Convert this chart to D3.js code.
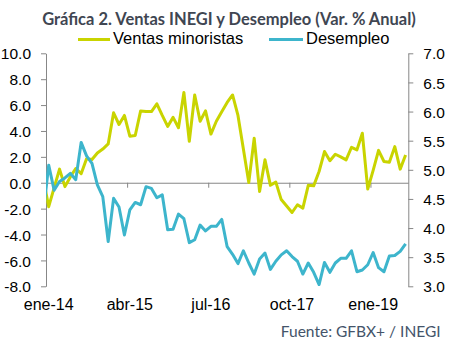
<!DOCTYPE html>
<html>
  <head>
    <meta charset="utf-8">
    <title>Ventas INEGI y Desempleo</title>
    <script src="https://cdn.jsdelivr.net/npm/d3@7"></script>
    <style>
      body { margin: 0; background: #fff; }
      svg { display: block; font-family: "Liberation Sans", Arial, sans-serif; }
      .axis path, .axis line { stroke: #878787; }
      .axis text { fill: #000; font-size: 15.5px; }
    </style>
  </head>
  <body>
    <svg id="chart" width="471" height="352"></svg>

    <script>
      // data (dic-13 sits just off the left edge and gets clipped)
      months = ["dic-13",
        "ene-14","feb-14","mar-14","abr-14","may-14","jun-14","jul-14","ago-14","sep-14","oct-14","nov-14","dic-14",
        "ene-15","feb-15","mar-15","abr-15","may-15","jun-15","jul-15","ago-15","sep-15","oct-15","nov-15","dic-15",
        "ene-16","feb-16","mar-16","abr-16","may-16","jun-16","jul-16","ago-16","sep-16","oct-16","nov-16","dic-16",
        "ene-17","feb-17","mar-17","abr-17","may-17","jun-17","jul-17","ago-17","sep-17","oct-17","nov-17","dic-17",
        "ene-18","feb-18","mar-18","abr-18","may-18","jun-18","jul-18","ago-18","sep-18","oct-18","nov-18","dic-18",
        "ene-19","feb-19","mar-19","abr-19","may-19","jun-19","jul-19"];

      ventas = [0.3,
        -1.85, -0.4, 1.05, -0.3, 0.45, 1.1, 0.7, 1.85, 1.8, 2.3, 2.6, 3.0,
        5.4, 4.5, 5.2, 3.6, 3.65, 5.55, 5.5, 5.5, 6.1, 5.2, 4.35, 5.05,
        4.25, 6.98, 3.2, 6.78, 4.75, 5.55, 3.76, 4.75, 5.49, 6.2, 6.78, 5.2,
        2.6, 0.02, 3.44, -0.68, 1.77, -0.2, 0.05, -1.3, -1.8, -2.3, -1.7, -1.96,
        -0.2, -0.24, 0.87, 2.41, 1.7, 2.2, 2.0, 1.77, 2.74, 2.54, 3.83, -0.49,
        0.95, 2.5, 1.64, 1.58, 2.79, 1.05, 2.15];

      desempleo = [4.25,
        5.08, 4.65, 4.80, 4.86, 4.94, 4.83, 5.47, 5.24, 5.11, 4.74, 4.54, 3.77,
        4.51, 4.36, 3.88, 4.31, 4.44, 4.40, 4.71, 4.68, 4.52, 4.57, 3.97, 3.98,
        4.24, 4.16, 3.75, 3.80, 4.05, 3.95, 4.03, 4.03, 4.15, 3.68, 3.55, 3.39,
        3.61, 3.40, 3.21, 3.47, 3.57, 3.29, 3.43, 3.54, 3.61, 3.51, 3.43, 3.21,
        3.40, 3.24, 3.03, 3.41, 3.24, 3.40, 3.48, 3.48, 3.61, 3.25, 3.28, 3.37,
        3.58, 3.32, 3.25, 3.52, 3.53, 3.60, 3.73];

      xLabels = ["ene-14", "abr-15", "jul-16", "oct-17", "ene-19"];
      leftTicks = [-8, -6, -4, -2, 0, 2, 4, 6, 8, 10];
      rightTicks = [3, 3.5, 4, 4.5, 5, 5.5, 6, 6.5, 7];

      series = [
        { name: "Ventas minoristas", values: ventas, colour: "#c9d400", axis: "left" },
        { name: "Desempleo", values: desempleo, colour: "#3db5cc", axis: "right" }
      ];

      svg = d3.select("#chart");

      // plot area
      left = 46;
      right = 408.3;
      top_ = 53.3;
      bottom = 286.3;

      x = d3.scaleLinear()
        .domain([0.5, months.length - 0.5])
        .range([left, right]);

      yLeft = d3.scaleLinear()
        .domain([-8, 10])
        .range([bottom, top_]);

      yRight = d3.scaleLinear()
        .domain([3, 7])
        .range([bottom, top_]);

      svg.append("clipPath")
          .attr("id", "plotClip")
        .append("rect")
          .attr("x", left)
          .attr("y", 0)
          .attr("width", right - left)
          .attr("height", 352);

      // title
      title = svg.append("text")
        .attr("x", 229)
        .attr("y", 25.3)
        .attr("text-anchor", "middle")
        .style("font-family", "Lato, 'Open Sans', sans-serif")
        .style("font-weight", "bold")
        .style("font-size", "15px")
        .style("fill", "#404652")
        .text("Gráfica 2. Ventas INEGI y Desempleo (Var. % Anual)");
      fitWidth(title, 374);

      // legend
      legendPos = [[78, 110, 113], [269, 303, 306]];
      legend = svg.selectAll(".legendItem")
          .data(series)
        .enter().append("g")
          .classed("legendItem", true);
      legend.append("line")
        .attr("x1", function(d, i) { return legendPos[i][0]; })
        .attr("x2", function(d, i) { return legendPos[i][1]; })
        .attr("y1", 39.5)
        .attr("y2", 39.5)
        .style("stroke", function(d) { return d.colour; })
        .style("stroke-width", 3);
      legend.append("text")
        .attr("x", function(d, i) { return legendPos[i][2]; })
        .attr("y", 44.3)
        .style("font-size", "16.5px")
        .style("fill", "#000")
        .text(function(d) { return d.name; });

      // left axis
      svg.append("g")
        .classed("axis", true)
        .attr("transform", "translate(" + left + ",0)")
        .call(d3.axisLeft(yLeft)
          .tickValues(leftTicks)
          .tickSize(5)
          .tickSizeOuter(0)
          .tickPadding(10)
          .tickFormat(function(d) { return d3.format(".1f")(d).replace("−", "-"); }))
        .call(function(g) { g.selectAll("text").attr("dy", "0.36em"); });

      // right axis
      svg.append("g")
        .classed("axis", true)
        .attr("transform", "translate(" + right + ",0)")
        .call(d3.axisRight(yRight)
          .tickValues(rightTicks)
          .tickSize(5)
          .tickSizeOuter(0)
          .tickPadding(10)
          .tickFormat(d3.format(".1f")))
        .call(function(g) { g.selectAll("text").attr("dy", "0.36em"); });

      // category axis on the zero line, ticks every 15 months
      labelIdx = xLabels.map(function(l) { return months.indexOf(l); });
      tickIdx = labelIdx.slice(1).map(function(i) { return i - 0.5; });
      xAxis = svg.append("g")
        .classed("axis", true)
        .attr("transform", "translate(0," + yLeft(0) + ")");
      xAxis.call(d3.axisBottom(x)
          .tickValues(tickIdx)
          .tickSize(5)
          .tickSizeOuter(0)
          .tickFormat(""));
      xAxis.selectAll(".xLabel")
          .data(xLabels)
        .enter().append("text")
          .classed("xLabel", true)
          .attr("x", function(d) { return x(months.indexOf(d)); })
          .attr("y", 310.5 - yLeft(0))
          .attr("text-anchor", "middle")
          .style("font-size", "16px")
          .text(function(d) { return d; });

      // lines
      lines = svg.append("g")
        .attr("clip-path", "url(#plotClip)");
      lines.selectAll(".series")
          .data(series)
        .enter().append("path")
          .classed("series", true)
          .attr("d", function(s) {
            var y = s.axis == "left" ? yLeft : yRight;
            return d3.line()
              .x(function(v, i) { return x(i); })
              .y(function(v) { return y(v); })(s.values);
          })
          .style("fill", "none")
          .style("stroke", function(s) { return s.colour; })
          .style("stroke-width", 3)
          .style("stroke-linejoin", "round");

      // source
      source = svg.append("text")
        .attr("x", 440.7)
        .attr("y", 337)
        .attr("text-anchor", "end")
        .style("font-family", "Lato, 'Open Sans', sans-serif")
        .style("font-size", "14px")
        .style("fill", "#44546a")
        .text("Fuente: GFBX+ / INEGI");
      fitWidth(source, 160);

      function fitWidth(sel, target) {
        var size = parseFloat(sel.style("font-size"));
        var w = sel.node().getComputedTextLength();
        sel.style("font-size", (size * target / w).toFixed(2) + "px");
      }
    </script>
  </body>
</html>
